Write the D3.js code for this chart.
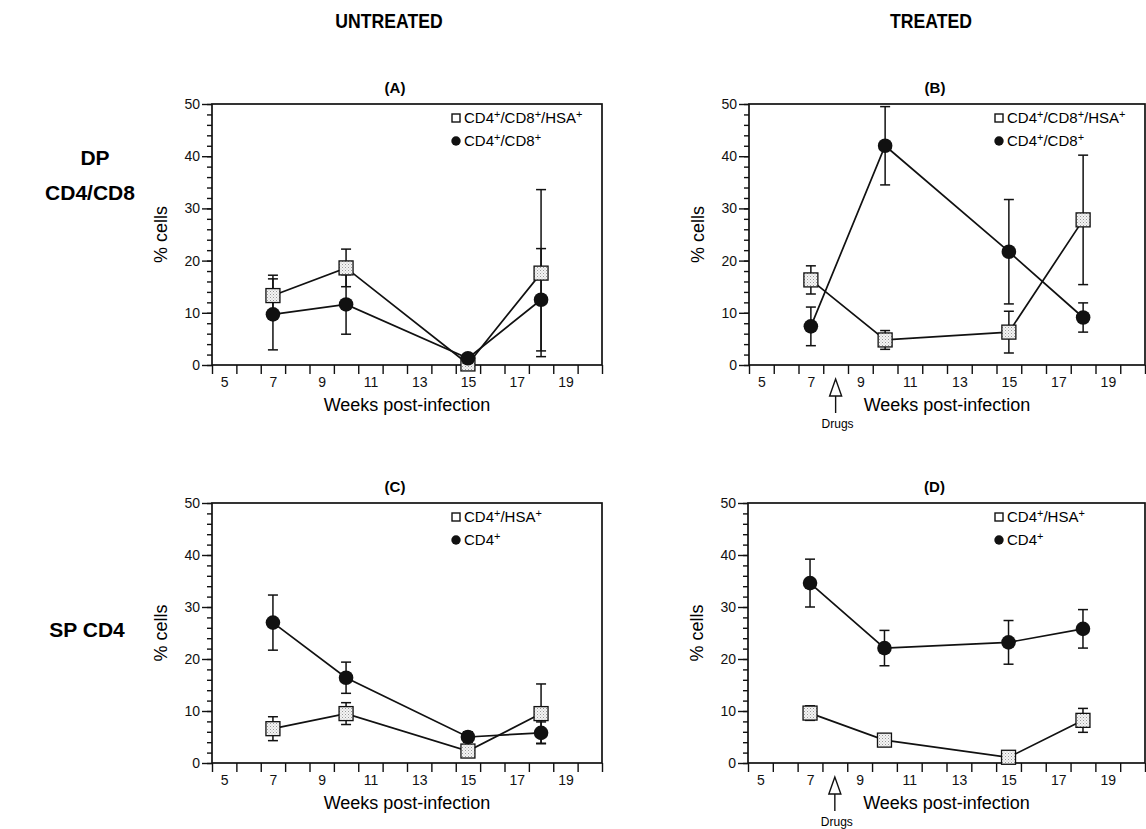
<!DOCTYPE html>
<html lang="en">
<head>
<meta charset="utf-8">
<style>
  body { margin: 0; background: white; }
  svg { font-family: "Liberation Sans", Arial, Helvetica, sans-serif; }
  .tick text { font-size: 14px; fill: #111; }
  .axis line { stroke: #111; stroke-width: 1.4; }
  .frame { fill: none; stroke: #111; stroke-width: 1.7; }
  .series { fill: none; stroke: #111; stroke-width: 1.7; }
  .err { stroke: #111; stroke-width: 1.5; }
  .col-title { font-weight: bold; font-size: 21px; }
  .row-title { font-weight: bold; font-size: 21px; }
  .panel-title { font-weight: bold; font-size: 15px; }
  .axis-title { font-size: 18px; }
  .legend { font-size: 15px; }
</style>
</head>
<body>
<svg id="fig" width="1146" height="829"></svg>
<script src="https://d3js.org/d3.v7.min.js"></script>
<script>
// ---- data ----
const weeks = [7, 10, 15, 18];
const xLabels = [5, 7, 9, 11, 13, 15, 17, 19];
const yLabels = [0, 10, 20, 30, 40, 50];

// (A) untreated, double positive
const aHsaMean = [13.3, 18.6, 0.2, 17.6];
const aHsaErr  = [3.9, 3.6, 0, 16.0];
const aDpMean  = [9.7, 11.6, 1.3, 12.5];
const aDpErr   = [6.8, 5.7, 0, 9.8];
// (B) treated, double positive
const bHsaMean = [16.3, 4.8, 6.3, 27.8];
const bHsaErr  = [2.7, 1.8, 4.0, 12.4];
const bDpMean  = [7.4, 42.0, 21.7, 9.1];
const bDpErr   = [3.7, 7.5, 10.0, 2.8];
// (C) untreated, single positive CD4
const cHsaMean = [6.6, 9.5, 2.3, 9.5];
const cHsaErr  = [2.3, 2.1, 0.8, 5.7];
const cCd4Mean = [27.0, 16.4, 5.0, 5.8];
const cCd4Err  = [5.3, 3.0, 1.0, 2.1];
// (D) treated, single positive CD4
const dHsaMean = [9.6, 4.4, 1.1, 8.2];
const dHsaErr  = [1.4, 0, 0, 2.3];
const dCd4Mean = [34.6, 22.1, 23.2, 25.8];
const dCd4Err  = [4.6, 3.4, 4.2, 3.7];

const drugWeek = 8;

const panels = [
  { id: "(A)", left: 212, top: 104, width: 390, height: 261, drugs: false,
    sq: { label: "CD4+/CD8+/HSA+", mean: aHsaMean, err: aHsaErr },
    ci: { label: "CD4+/CD8+", mean: aDpMean, err: aDpErr } },
  { id: "(B)", left: 749, top: 104, width: 396, height: 261, drugs: true,
    sq: { label: "CD4+/CD8+/HSA+", mean: bHsaMean, err: bHsaErr },
    ci: { label: "CD4+/CD8+", mean: bDpMean, err: bDpErr } },
  { id: "(C)", left: 212, top: 503, width: 390, height: 260, drugs: false,
    sq: { label: "CD4+/HSA+", mean: cHsaMean, err: cHsaErr },
    ci: { label: "CD4+", mean: cCd4Mean, err: cCd4Err } },
  { id: "(D)", left: 748, top: 503, width: 397, height: 260, drugs: true,
    sq: { label: "CD4+/HSA+", mean: dHsaMean, err: dHsaErr },
    ci: { label: "CD4+", mean: dCd4Mean, err: dCd4Err } }
];

const svg = d3.select("#fig");

// stipple fill for the square markers
const pat = svg.append("defs").append("pattern")
  .attr("id", "stip").attr("width", 3).attr("height", 3)
  .attr("patternUnits", "userSpaceOnUse");
pat.append("rect").attr("width", 3).attr("height", 3).attr("fill", "#f4f4f4");
pat.append("rect").attr("width", 1).attr("height", 1).attr("fill", "#999");
pat.append("rect").attr("x", 1.5).attr("y", 1.5).attr("width", 1).attr("height", 1).attr("fill", "#bbb");

// column headings: condensed look by squeezing the bold face horizontally
[["UNTREATED", 389], ["TREATED", 931]].forEach(([t, cx]) => {
  svg.append("text").attr("class", "col-title")
    .attr("transform", `translate(${cx},28) scale(0.84,1)`)
    .attr("text-anchor", "middle").text(t);
});
svg.append("text").attr("class", "row-title").attr("x", 95).attr("y", 165)
  .attr("text-anchor", "middle").text("DP");
svg.append("text").attr("class", "row-title").attr("x", 90).attr("y", 200)
  .attr("text-anchor", "middle").text("CD4/CD8");
svg.append("text").attr("class", "row-title").attr("x", 87).attr("y", 637)
  .attr("text-anchor", "middle").text("SP CD4");

// write a label with every "+" raised as a superscript
function supText(sel, label) {
  let shift = 0;
  label.split(/(\+)/).filter(s => s.length).forEach(part => {
    const sup = part === "+";
    const t = sel.append("tspan").attr("dy", (sup ? -5 : 0) - shift).text(part);
    if (sup) t.attr("font-size", "11px");
    shift = sup ? -5 : 0;
  });
}

panels.forEach(p => {
  const x = d3.scaleLinear().domain([4.5, 20.5]).range([p.left, p.left + p.width]);
  const y = d3.scaleLinear().domain([0, 50]).range([p.top + p.height, p.top]);
  const g = svg.append("g");

  // y axis: minor every 2, labelled every 10
  g.append("g").attr("class", "axis")
    .attr("transform", `translate(${p.left},0)`)
    .call(d3.axisLeft(y).tickValues(d3.range(0, 51, 2)).tickSize(5).tickFormat(""))
    .call(a => a.select(".domain").remove());
  g.append("g").attr("class", "axis")
    .attr("transform", `translate(${p.left},0)`)
    .call(d3.axisLeft(y).tickValues(yLabels).tickSize(10).tickPadding(2))
    .call(a => a.select(".domain").remove());

  // x axis: marks between weeks, labels on odd weeks
  g.append("g").attr("class", "axis")
    .attr("transform", `translate(0,${p.top + p.height})`)
    .call(d3.axisBottom(x).tickValues(d3.range(4.5, 20.6, 1)).tickSize(9).tickFormat(""))
    .call(a => a.select(".domain").remove());
  g.append("g").attr("class", "axis")
    .attr("transform", `translate(0,${p.top + p.height})`)
    .call(d3.axisBottom(x).tickValues(xLabels).tickSize(0).tickPadding(12))
    .call(a => a.select(".domain").remove());

  g.append("rect").attr("class", "frame")
    .attr("x", p.left).attr("y", p.top).attr("width", p.width).attr("height", p.height);

  // titles
  g.append("text").attr("class", "panel-title")
    .attr("x", p.left + p.width / 2 - 12).attr("y", p.top - 11)
    .attr("text-anchor", "middle").text(p.id);
  g.append("text").attr("class", "axis-title")
    .attr("x", p.left + p.width / 2).attr("y", p.top + p.height + 46)
    .attr("text-anchor", "middle").text("Weeks post-infection");
  g.append("text").attr("class", "axis-title")
    .attr("transform", `translate(${p.left - 45},${p.top + p.height / 2}) rotate(-90)`)
    .attr("text-anchor", "middle").text("% cells");

  // lines
  const line = d3.line().x((d, i) => x(weeks[i])).y(d => y(d));
  [p.sq, p.ci].forEach(s => {
    g.append("path").attr("class", "series").attr("d", line(s.mean));
  });

  // error bars
  [p.ci, p.sq].forEach(s => {
    s.mean.forEach((m, i) => {
      if (!s.err[i]) return;
      const cx = x(weeks[i]);
      g.append("line").attr("class", "err")
        .attr("x1", cx).attr("x2", cx).attr("y1", y(m - s.err[i])).attr("y2", y(m + s.err[i]));
      [m - s.err[i], m + s.err[i]].forEach(v => {
        g.append("line").attr("class", "err")
          .attr("x1", cx - 5).attr("x2", cx + 5).attr("y1", y(v)).attr("y2", y(v));
      });
    });
  });

  // markers
  g.selectAll(null).data(p.sq.mean).join("rect")
    .attr("x", (d, i) => x(weeks[i]) - 7).attr("y", d => y(d) - 7)
    .attr("width", 14).attr("height", 14)
    .attr("fill", "url(#stip)").attr("stroke", "#111").attr("stroke-width", 1.3);
  g.selectAll(null).data(p.ci.mean).join("circle")
    .attr("cx", (d, i) => x(weeks[i])).attr("cy", d => y(d)).attr("r", 7.3)
    .attr("fill", "#111");

  // legend
  const lx = p.left + p.width - 146;
  g.append("rect").attr("x", lx - 4).attr("y", p.top + 10).attr("width", 8).attr("height", 8)
    .attr("fill", "white").attr("stroke", "#111").attr("stroke-width", 1.4);
  supText(g.append("text").attr("class", "legend").attr("x", lx + 8).attr("y", p.top + 19), p.sq.label);
  g.append("circle").attr("cx", lx).attr("cy", p.top + 37).attr("r", 4.7).attr("fill", "#111");
  supText(g.append("text").attr("class", "legend").attr("x", lx + 8).attr("y", p.top + 42), p.ci.label);

  // drug arrow
  if (p.drugs) {
    const ax = x(drugWeek);
    const y0 = p.top + p.height;
    g.append("path")
      .attr("d", `M${ax},${y0 + 14} L${ax - 6},${y0 + 31} L${ax + 6},${y0 + 31} Z`)
      .attr("fill", "white").attr("stroke", "#111").attr("stroke-width", 1.4);
    g.append("line").attr("x1", ax).attr("x2", ax).attr("y1", y0 + 31).attr("y2", y0 + 48)
      .attr("stroke", "#111").attr("stroke-width", 1.4);
    g.append("text").attr("x", ax + 2).attr("y", y0 + 63).attr("text-anchor", "middle")
      .attr("font-size", "12px").text("Drugs");
  }
});
</script>
</body>
</html>
